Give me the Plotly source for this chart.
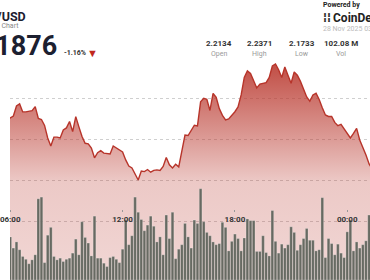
import pandas as pd
import plotly.graph_objects as go

# ---- data -------------------------------------------------------------
price_start = "2025-11-27 05:50"
prices = [
    2.2090,
    2.2105, 2.2114, 2.2163, 2.2173, 2.2134, 2.2134, 2.2136, 2.2140, 2.2160, 2.2102,
    2.2097, 2.2068, 2.2007, 2.1968, 2.2011, 2.2011, 2.2007, 2.2046, 2.2056, 2.2087,
    2.2038, 2.2111, 2.2061, 2.2014, 2.1981, 2.1978, 2.1958, 2.1910, 2.1935, 2.1945,
    2.1933, 2.1932, 2.1929, 2.1968, 2.1958, 2.1951, 2.1939, 2.1900, 2.1870, 2.1861,
    2.1834, 2.1802, 2.1846, 2.1843, 2.1853, 2.1840, 2.1849, 2.1851, 2.1848, 2.1868,
    2.1912, 2.1876, 2.1861, 2.1879, 2.1866, 2.1939, 2.2021, 2.2019, 2.2046, 2.2069,
    2.2066, 2.2183, 2.2200, 2.2195, 2.2141, 2.2224, 2.2205, 2.2150, 2.2117, 2.2095,
    2.2100, 2.2117, 2.2135, 2.2158, 2.2217, 2.2302, 2.2334, 2.2322, 2.2285, 2.2251,
    2.2270, 2.2273, 2.2277, 2.2302, 2.2358, 2.2368, 2.2340, 2.2302, 2.2353, 2.2313,
    2.2274, 2.2329, 2.2313, 2.2283, 2.2244, 2.2207, 2.2186, 2.2217, 2.2225, 2.2195,
    2.2154, 2.2119, 2.2112, 2.2112, 2.2083, 2.2067, 2.2073, 2.2051, 2.2032, 2.2007,
    2.2029, 2.2054, 2.1997, 2.1963, 2.1924, 2.1880,
    2.1855,
]

volume_start = "2025-11-27 06:00"
volumes_m = [
    0.77, 0.57, 0.68, 0.54, 0.42, 0.37, 0.29, 0.36, 0.45, 1.45,
    1.48, 0.31, 0.80, 0.94, 0.42, 0.36, 0.39, 0.33, 0.37, 0.39,
    0.48, 0.73, 0.45, 1.04, 0.76, 0.66, 0.43, 1.14, 0.39, 0.39,
    0.30, 0.24, 0.40, 0.42, 0.37, 0.31, 0.55, 1.07, 0.63, 0.79,
    1.48, 1.21, 1.08, 0.88, 0.98, 1.14, 0.96, 0.68, 0.77, 0.45,
    1.16, 0.74, 1.21, 0.38, 0.55, 0.63, 1.01, 0.77, 0.57, 1.07,
    1.01, 1.63, 1.04, 0.85, 0.79, 0.68, 0.63, 0.65, 1.03, 0.94,
    0.52, 0.69, 0.82, 0.74, 0.52, 0.75, 1.09, 1.06, 1.06, 0.51,
    0.51, 0.79, 0.49, 0.43, 1.24, 0.69, 0.48, 0.64, 0.57, 0.63,
    0.95, 0.85, 0.53, 0.63, 0.74, 0.92, 0.71, 0.71, 0.52, 0.54,
    1.47, 0.40, 0.74, 0.65, 0.45, 0.64, 0.48, 0.40, 0.86, 1.07,
    0.52, 0.68, 0.57, 0.63, 0.70, 1.16,
]

pair_name = "XRP/USD"
subtitle = "XRP Price Chart"
last_price = "2.1876"
change_pct = "-1.16%"
stat_values = ["2.2134", "2.2371", "2.1733", "102.08 M"]
stat_labels = ["Open", "High", "Low", "Vol"]
timestamp = "28 Nov 2025 03:10 UTC"
grid_prices = [2.16, 2.18, 2.20, 2.22]

price_times = pd.date_range(price_start, periods=len(prices), freq="10min")
volume_times = pd.date_range(volume_start, periods=len(volumes_m), freq="10min")

W, H = 370, 280
RED = "rgb(183,52,42)"

fig = go.Figure()

fig.add_trace(go.Scatter(
    x=price_times, y=prices, mode="lines",
    line=dict(color=RED, width=1.4),
    fill="tozeroy",
    fillgradient=dict(
        type="vertical", start=2.13, stop=2.24,
        colorscale=[[0.0, "rgba(185,55,45,0.20)"],
                    [0.45, "rgba(185,55,45,0.27)"],
                    [0.64, "rgba(185,55,45,0.50)"],
                    [1.0, "rgba(185,55,45,0.92)"]],
    ),
    hoverinfo="skip", showlegend=False,
))

fig.add_trace(go.Bar(
    x=volume_times, y=volumes_m, yaxis="y2",
    marker=dict(color="#676a62", line=dict(color="rgba(255,255,255,0.35)", width=0.6)),
    hoverinfo="skip", showlegend=False,
))

def px(x):
    return x / W

def py(y):
    return 1 - y / H

ann = []
def text(t, x, y, size, color, anchor="left", bold=False, family="Roboto"):
    ann.append(dict(text=f"<b>{t}</b>" if bold else t, x=px(x), y=py(y),
                    xref="paper", yref="paper", xanchor=anchor, yanchor="middle",
                    showarrow=False, font=dict(size=size, color=color, family=family)))

text(pair_name, 18.5, 16.5, 12.5, "#1c2030", "right", True)
text(subtitle, 11, 26, 7, "#888", "right")
text(last_price, 50, 46, 27, "#1c2030", "right", True)
text(change_pct, 53, 53, 7, "#333", "left", True)
text("▼", 77.5, 53.5, 11, "#c0281e", "left")

text("Powered by", 320, 5, 7, "#222", "left", True)
text("⁞⁞", 319.5, 17.5, 12, "#222", "left", True)
text("CoinDesk", 329.5, 17.5, 12, "#222", "left", True)
text(timestamp, 320, 29.5, 7, "#bbb", "left")

stat_centers = [215, 256.5, 300.5, 340]
for v, l, cx in zip(stat_values, stat_labels, stat_centers):
    text(v, cx, 43, 8, "#333", "center", True)
    text(l, cx, 53.5, 7, "#999", "center")

fig.update_layout(
    width=W, height=H,
    margin=dict(l=0, r=0, t=0, b=0),
    paper_bgcolor="white", plot_bgcolor="white",
    bargap=0.15,
    annotations=ann,
    xaxis=dict(
        type="date",
        range=["2025-11-27 05:59:12", "2025-11-28 01:12:54"],
        anchor="free", position=1 - 209 / H,
        showgrid=False, zeroline=False, showline=False,
        tickformat="%H:%M", dtick=6 * 3600 * 1000, tick0="2025-11-27 00:00",
        ticks="outside", ticklen=2, tickcolor="#999", tickwidth=1,
        ticklabeloverflow="allow",
        tickfont=dict(size=8, color="#333", family="Roboto", weight="bold"),
    ),
    yaxis=dict(
        range=[2.1314, 2.2680], domain=[0, 1],
        tickvals=grid_prices, showticklabels=False,
        showgrid=True, gridcolor="#cfcfcf", griddash="dot", gridwidth=1,
        zeroline=False, showline=False,
    ),
    yaxis2=dict(range=[0, 5], overlaying="y", visible=False, showgrid=False),
)

fig.write_html("out.html")
